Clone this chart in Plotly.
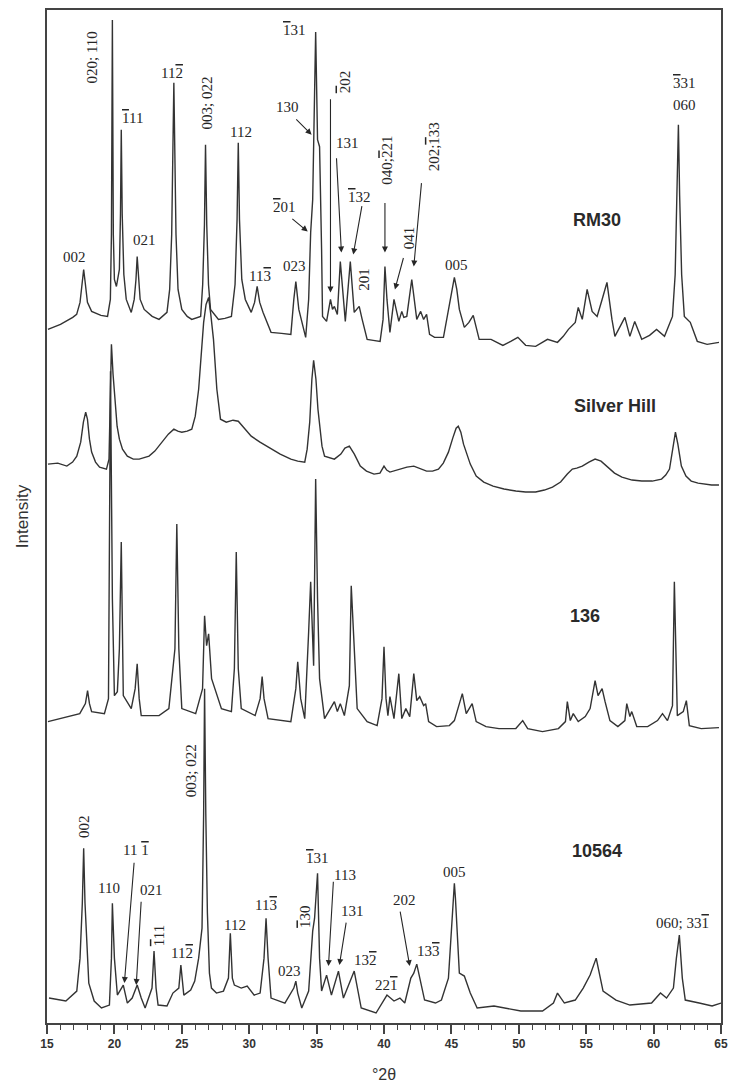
import plotly.graph_objects as go

# ---------------- data (2theta in degrees, intensity in arbitrary units) ----------------
tt_rm30 = [15.07, 16.0, 16.91, 17.2, 17.45, 17.6, 17.72, 17.85, 18.0, 18.31, 19.0, 19.49, 19.70, 19.78, 19.85,
           19.92, 20.0, 20.15, 20.37, 20.45, 20.51, 20.58, 20.7, 20.88, 21.25, 21.47, 21.6, 21.69, 21.78, 21.91,
           22.21, 22.8, 23.31, 23.90, 24.1, 24.25, 24.41, 24.57, 24.72, 25.00, 25.4, 25.74, 26.40, 26.55, 26.68,
           26.76, 26.85, 26.98, 27.13, 27.72, 28.2, 28.68, 28.95, 29.1, 29.19, 29.28, 29.45, 29.71, 30.15, 30.4,
           30.59, 30.78, 31.03, 31.62, 32.4, 33.09, 33.31, 33.46, 33.68, 34.19, 34.41, 34.56, 34.71, 34.78, 34.93,
           35.07, 35.22, 35.37, 35.44, 35.74, 36.03, 36.18, 36.32, 36.54, 36.76, 37.13, 37.50, 37.79, 38.16, 38.38,
           38.75, 39.2, 39.71, 39.93, 40.07, 40.22, 40.44, 40.74, 41.10, 41.32, 41.47, 41.69, 42.06, 42.43, 42.72,
           42.94, 43.16, 43.38, 43.75, 44.41, 44.78, 45.05, 45.22, 45.4, 45.59, 45.96, 46.3, 46.62, 47.06, 47.94,
           48.82, 49.4, 49.93, 50.51, 51.25, 52.13, 52.87, 53.3, 53.68, 54.19, 54.41, 54.71, 55.07, 55.44, 55.81,
           56.18, 56.54, 56.91, 57.13, 57.87, 58.24, 58.60, 59.12, 59.7, 60.22, 60.81, 61.40, 61.6, 61.75, 61.84,
           61.93, 62.08, 62.28, 62.72, 63.24, 63.97, 64.85]
int_rm30 = [15, 20, 27, 30, 42, 60, 75, 60, 42, 33, 29, 28, 45, 110, 325,
            110, 65, 58, 75, 130, 215, 130, 70, 45, 32, 45, 65, 88, 65, 45,
            35, 28, 25, 32, 55, 110, 262, 110, 55, 35, 28, 25, 28, 60, 120,
            200, 120, 60, 35, 25, 26, 28, 60, 125, 202, 125, 65, 45, 32, 42,
            58, 42, 32, 12, 11, 10, 45, 63, 35, 7, 45, 112, 145, 212, 313,
            205, 198, 95, 28, 23, 45, 35, 38, 30, 83, 23, 83, 32, 38, 25,
            5, 4, 3, 25, 78, 45, 12, 45, 23, 33, 27, 28, 65, 25, 33,
            25, 30, 10, 7, 7, 35, 58, 67, 55, 35, 17, 22, 29, 5, 5,
            -1, 3, 7, -1, -2, 5, 2, 8, 15, 22, 37, 25, 55, 33, 28,
            45, 62, 25, 8, 27, 8, 23, 5, 9, 15, 8, 28, 70, 150, 220,
            150, 70, 28, 22, 3, 0, 2]

tt_silver = [15.07, 15.8, 16.47, 16.9, 17.21, 17.5, 17.7, 17.87, 18.0, 18.15, 18.31, 18.6, 18.90, 19.41, 19.6,
             19.7, 19.78, 19.9, 20.07, 20.2, 20.37, 20.6, 20.96, 21.4, 21.84, 22.57, 23.0, 23.53, 24.0, 24.41,
             24.7, 25.00, 25.4, 25.74, 26.0, 26.25, 26.45, 26.62, 26.8, 26.99, 27.15, 27.35, 27.6, 27.87, 28.3,
             28.8, 29.19, 29.6, 30.15, 30.8, 31.62, 32.3, 33.09, 33.6, 34.12, 34.3, 34.49, 34.65, 34.78, 34.95,
             35.1, 35.22, 35.4, 35.59, 35.9, 36.32, 36.8, 37.1, 37.43, 37.8, 38.24, 38.7, 39.26, 39.7, 40.00,
             40.2, 40.44, 41.18, 41.7, 42.21, 42.6, 43.16, 43.6, 44.04, 44.4, 44.78, 45.1, 45.35, 45.51, 45.7,
             45.9, 46.10, 46.4, 46.84, 47.4, 48.09, 48.9, 49.78, 50.5, 51.25, 51.9, 52.50, 53.1, 53.60, 53.97,
             54.3, 54.71, 55.2, 55.66, 56.1, 56.62, 57.1, 57.65, 58.4, 59.12, 59.9, 60.59, 60.9, 61.18, 61.4,
             61.62, 61.8, 62.06, 62.4, 62.79, 63.3, 63.75, 64.3, 64.85]
int_silver = [30, 31, 28, 32, 38, 52, 72, 82, 75, 55, 42, 32, 27, 25, 35,
              90, 150, 120, 85, 68, 55, 45, 38, 35, 35, 38, 43, 52, 60, 65,
              63, 62, 63, 65, 78, 105, 145, 172, 190, 197, 180, 155, 105, 75, 72,
              74, 73, 67, 58, 52, 45, 40, 35, 33, 32, 45, 72, 115, 134, 115,
              85, 68, 48, 38, 37, 35, 40, 46, 48, 40, 28, 23, 20, 21, 28,
              24, 22, 25, 27, 28, 26, 23, 23, 25, 31, 42, 56, 66, 68, 62,
              50, 42, 30, 18, 12, 8, 5, 3, 2, 2, 4, 7, 12, 20, 25,
              26, 28, 32, 35, 33, 27, 21, 17, 14, 13, 13, 15, 19, 25, 42,
              62, 50, 28, 18, 13, 11, 10, 9, 9]

tt_136 = [15.07, 17.43, 17.85, 18.01, 18.15, 18.31, 19.26, 19.56, 19.71, 19.85, 20.00, 20.22, 20.37, 20.51, 20.66,
          21.25, 21.54, 21.69, 21.84, 21.99, 23.31, 24.04, 24.49, 24.63, 24.78, 25.00, 26.03, 26.54, 26.69, 26.84,
          26.99, 27.21, 27.94, 28.68, 28.90, 29.04, 29.19, 29.41, 30.44, 30.81, 30.96, 31.10, 31.40, 33.09, 33.46,
          33.60, 33.82, 34.12, 34.41, 34.56, 34.78, 34.93, 35.07, 35.22, 35.59, 36.32, 36.54, 36.76, 37.06, 37.43,
          37.57, 37.79, 38.01, 38.75, 39.49, 39.85, 40.00, 40.15, 40.29, 40.44, 40.74, 41.10, 41.32, 41.62, 41.91,
          42.21, 42.43, 42.65, 42.94, 43.09, 43.31, 43.90, 44.85, 45.22, 45.81, 46.10, 46.54, 46.84, 47.57, 48.53,
          49.78, 50.29, 50.66, 51.76, 52.94, 53.46, 53.60, 53.82, 54.04, 54.41, 54.93, 55.29, 55.66, 55.88, 56.18,
          56.40, 56.76, 57.35, 57.87, 58.01, 58.24, 58.38, 58.75, 59.56, 60.29, 60.66, 61.03, 61.40, 61.54, 61.76,
          62.2, 62.43, 62.65, 63.53, 64.85]
int_136 = [12, 20, 30, 43, 30, 22, 20, 35, 363, 135, 38, 42, 85, 192, 38,
           25, 45, 70, 35, 18, 18, 25, 85, 210, 85, 25, 20, 45, 118, 88,
           100, 55, 25, 22, 65, 182, 65, 25, 18, 35, 57, 35, 15, 12, 45,
           72, 35, 15, 102, 152, 68, 255, 135, 55, 15, 32, 22, 30, 18, 48,
           148, 92, 25, 12, 8, 35, 87, 35, 18, 37, 15, 60, 15, 25, 17,
           60, 33, 37, 28, 30, 12, 7, 8, 13, 40, 20, 30, 12, 7, 5,
           5, 13, 5, 2, 5, 12, 32, 13, 20, 12, 17, 25, 53, 38, 45,
           32, 13, 7, 13, 30, 17, 22, 7, 7, 13, 20, 13, 28, 152, 18,
           22, 33, 8, 5, 6]

tt_10564 = [15.15, 16.40, 17.21, 17.45, 17.62, 17.72, 17.82, 17.98, 18.1, 18.5, 19.04, 19.63, 19.78, 19.85, 20.00,
            20.22, 20.66, 20.96, 21.32, 21.69, 21.99, 22.28, 22.79, 22.94, 23.09, 23.24, 23.90, 24.34, 24.78, 24.93,
            25.15, 25.66, 25.96, 26.25, 26.5, 26.62, 26.69, 26.78, 26.9, 27.05, 27.2, 27.57, 28.09, 28.46, 28.60,
            28.75, 28.90, 29.41, 29.85, 30.37, 30.81, 31.10, 31.25, 31.40, 31.62, 32.65, 33.31, 33.46, 33.60, 33.90,
            34.41, 34.71, 34.85, 35.07, 35.22, 35.37, 35.74, 36.10, 36.62, 36.99, 37.79, 38.31, 39.41, 40.22, 40.74,
            41.18, 41.54, 41.99, 42.21, 42.43, 43.01, 43.82, 44.26, 44.78, 45.0, 45.15, 45.22, 45.3, 45.44, 45.59,
            45.96, 46.40, 46.91, 48.16, 50.15, 51.76, 52.57, 52.87, 53.38, 54.19, 54.78, 55.29, 55.74, 56.25, 57.21,
            58.24, 59.85, 60.51, 60.96, 61.47, 61.69, 61.91, 62.13, 62.35, 63.38, 64.34, 65.00]
int_10564 = [15, 12, 22, 55, 110, 165, 110, 55, 30, 12, 5, 8, 55, 110, 55,
             18, 28, 10, 15, 28, 15, 5, 25, 62, 25, 8, 7, 20, 25, 48,
             18, 23, 32, 55, 85, 200, 325, 200, 100, 40, 25, 20, 22, 35, 80,
             35, 28, 25, 27, 18, 20, 55, 95, 55, 15, 10, 25, 32, 20, 5,
             22, 82, 95, 140, 55, 22, 38, 18, 42, 15, 42, 5, 0, 18, 12,
             15, 10, 35, 40, 49, 13, 10, 13, 35, 80, 120, 130, 115, 75, 40,
             37, 20, 5, 7, 2, 2, 10, 20, 10, 13, 25, 38, 55, 22, 13,
             8, 10, 20, 15, 25, 55, 78, 35, 13, 10, 7, 10]

sample_names = ["RM30", "Silver Hill", "136", "10564"]
offsets = {"RM30": 680, "Silver Hill": 530, "136": 290, "10564": 10}
series = {"RM30": (tt_rm30, int_rm30), "Silver Hill": (tt_silver, int_silver),
          "136": (tt_136, int_136), "10564": (tt_10564, int_10564)}
name_pos = {"RM30": (55.81, 805), "Silver Hill": (57.13, 618), "136": (54.93, 408), "10564": (55.81, 172)}

x_ticks = [15, 20, 25, 30, 35, 40, 45, 50, 55, 60, 65]


def ob(d):
    return '<span style="text-decoration:overline">' + d + '</span>'


# (text, 2theta, y, angle)
labels = [
    ("002", 17.06, 768, 0), ("020; 110", 18.31, 967, -90), (ob("1") + "11", 21.32, 907, 0),
    ("021", 22.21, 785, 0), ("11" + ob("2"), 24.26, 952, 0), ("003; 022", 26.84, 922, -90),
    ("112", 29.41, 893, 0), ("11" + ob("3"), 30.81, 748, 0), ("023", 33.38, 758, 0),
    (ob("2") + "01", 32.65, 818, 0), ("130", 32.87, 918, 0), (ob("1") + "31", 33.38, 995, 0),
    (ob("2") + "02", 37.06, 943, -90), ("131", 37.28, 882, 0), (ob("1") + "32", 38.16, 828, 0),
    ("201", 38.53, 745, -90), ("040;" + ob("2") + "21", 40.22, 865, -90), ("041", 41.84, 787, -90),
    ("202;" + ob("1") + "33", 43.68, 878, -90), ("005", 45.37, 760, 0),
    (ob("3") + "31", 62.28, 942, 0), ("060", 62.28, 920, 0),
    # 10564
    ("002", 17.79, 197, -90), ("110", 19.63, 135, 0), ("11 " + ob("1"), 21.62, 173, 0),
    ("021", 22.72, 133, 0), (ob("1") + "11", 23.31, 87, -90), ("11" + ob("2"), 25.00, 70, 0),
    ("003; 022", 25.66, 253, -90), ("112", 28.97, 98, 0), ("11" + ob("3"), 31.25, 118, 0),
    ("023", 33.01, 52, 0), (ob("1") + "30", 34.19, 107, -90), (ob("1") + "31", 35.07, 165, 0),
    ("113", 37.13, 148, 0), ("131", 37.65, 112, 0), ("13" + ob("2"), 38.60, 63, 0),
    ("22" + ob("1"), 40.22, 38, 0), ("202", 41.54, 123, 0), ("13" + ob("3"), 43.31, 72, 0),
    ("005", 45.22, 151, 0), ("060; 33" + ob("1"), 62.13, 100, 0),
]

# (tail 2theta, tail y, tip 2theta, tip y)
arrows = [
    (33.09, 807, 34.34, 793), (33.38, 907, 34.63, 890), (36.03, 927, 36.03, 732),
    (36.47, 868, 36.84, 772), (38.38, 820, 37.72, 770), (40.07, 823, 40.07, 772),
    (41.47, 768, 40.81, 735), (42.79, 843, 42.21, 758),
    (21.47, 162, 20.74, 40), (21.99, 123, 21.62, 38), (36.25, 143, 35.88, 57),
    (37.21, 102, 36.69, 58), (41.18, 113, 41.91, 57),
]

fig = go.Figure()
for nm in sample_names:
    xs, ys = series[nm]
    off = offsets[nm]
    fig.add_trace(go.Scatter(x=xs, y=[v + off for v in ys], mode="lines",
                             line=dict(color="#333333", width=1.4), showlegend=False, hoverinfo="skip"))

ann = []
for t, x, y, a in labels:
    ann.append(dict(x=x, y=y, text=t, textangle=a, showarrow=False, xref="x", yref="y",
                    font=dict(family="Liberation Serif", size=15, color="#262626")))
for x0, y0, x1, y1 in arrows:
    ann.append(dict(x=x1, y=y1, ax=x0, ay=y0, axref="x", ayref="y", xref="x", yref="y", text="",
                    showarrow=True, arrowhead=2, arrowsize=1.1, arrowwidth=1.1, arrowcolor="#262626", standoff=0))
for nm in sample_names:
    x, y = name_pos[nm]
    ann.append(dict(x=x, y=y, text="<b>" + nm + "</b>", showarrow=False, xref="x", yref="y",
                    font=dict(family="Liberation Sans", size=18, color="#2a2a2a")))

fig.update_layout(
    width=735, height=1088, margin=dict(l=47, r=7, t=10, b=63),
    paper_bgcolor="white", plot_bgcolor="white", annotations=ann,
    xaxis=dict(range=[15, 65], tickvals=x_ticks, ticks="outside", ticklen=9, tickwidth=1.5, tickcolor="#444",
               minor=dict(dtick=1, ticks="outside", ticklen=5, tickwidth=1.2, tickcolor="#444"),
               showline=True, linecolor="#444", linewidth=2, mirror=True, showgrid=False, zeroline=False,
               tickfont=dict(family="Liberation Sans", size=12, color="#333", weight="bold"),
               title=dict(text="°2θ", font=dict(family="Liberation Sans", size=16, color="#333"), standoff=18)),
    yaxis=dict(range=[0, 1015], showticklabels=False, ticks="", showline=True, linecolor="#444", linewidth=2,
               mirror=True, showgrid=False, zeroline=False,
               title=dict(text="Intensity", font=dict(family="Liberation Sans", size=17, color="#333"), standoff=12)),
)

fig.write_html("out.html")
